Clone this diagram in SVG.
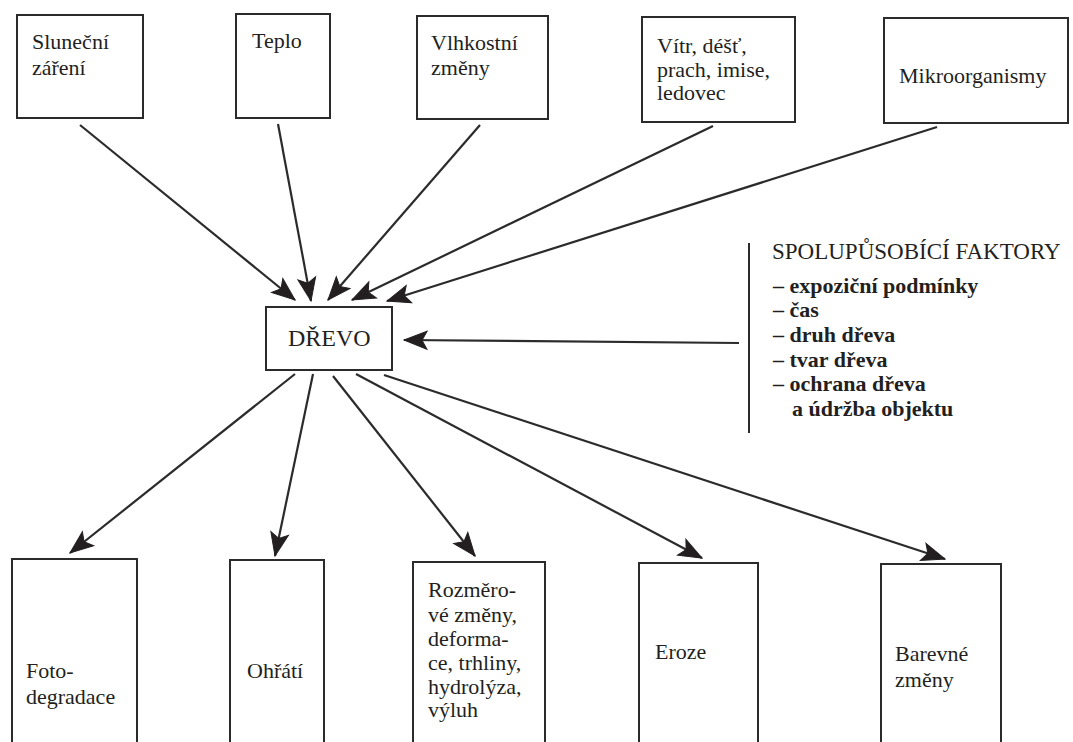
<svg xmlns="http://www.w3.org/2000/svg" width="1073" height="742" viewBox="0 0 1073 742">
<style>
.box{fill:none;stroke:#2b2b2b;stroke-width:2}
text{font-family:'Liberation Serif','DejaVu Serif',serif;font-size:22px;fill:#231f20}
.b{font-weight:bold}
.c{stroke:#2b2b2b;stroke-width:2.2;fill:none;marker-end:url(#ah)}
</style>
<defs>
<marker id="ah" markerUnits="userSpaceOnUse" markerWidth="26" markerHeight="20" refX="23" refY="9" orient="auto" overflow="visible">
<path d="M0,0 L23,9 L0,18 L5,9 Z" fill="#231f20" stroke="#231f20" stroke-width="1" stroke-linejoin="miter"/>
</marker>
</defs>
<rect width="1073" height="742" fill="#ffffff"/>
<g id="n-slunecni"><rect class="box" x="17" y="15" width="126" height="103"/><text x="32" y="49">Sluneční</text><text x="32" y="75">záření</text></g>
<g id="n-teplo"><rect class="box" x="236" y="14" width="94" height="104"/><text x="252" y="48">Teplo</text></g>
<g id="n-vlhkost"><rect class="box" x="417" y="16" width="131" height="103"/><text x="431" y="50">Vlhkostní</text><text x="431" y="75">změny</text></g>
<g id="n-vitr"><rect class="box" x="642" y="17" width="153" height="105"/><text x="657" y="53">Vítr, déšť,</text><text x="657" y="77">prach, imise,</text><text x="657" y="100">ledovec</text></g>
<g id="n-mikro"><rect class="box" x="884" y="18" width="184" height="105"/><text x="899" y="83">Mikroorganismy</text></g>
<g id="n-drevo"><rect class="box" x="266" y="307" width="126" height="63"/><text x="288" y="346" style="font-size:24px">DŘEVO</text></g>
<g id="n-faktory">
<line x1="749" y1="243" x2="749" y2="433" stroke="#2b2b2b" stroke-width="2"/>
<text x="772" y="259" style="font-size:23px">SPOLUPŮSOBÍCÍ FAKTORY</text>
<text class="b" x="773" y="293">– expoziční podmínky</text>
<text class="b" x="773" y="317">– čas</text>
<text class="b" x="773" y="342">– druh dřeva</text>
<text class="b" x="773" y="367">– tvar dřeva</text>
<text class="b" x="773" y="391">– ochrana dřeva</text>
<text class="b" x="792" y="416">a údržba objektu</text>
</g>
<g id="n-foto"><rect class="box" x="12" y="559" width="125" height="200"/><text x="26" y="678">Foto-</text><text x="26" y="704">degradace</text></g>
<g id="n-ohrati"><rect class="box" x="230" y="560" width="94" height="200"/><text x="247" y="678">Ohřátí</text></g>
<g id="n-rozmer"><rect class="box" x="413" y="562" width="132" height="200"/><text x="428" y="597">Rozměro-</text><text x="428" y="622">vé změny,</text><text x="428" y="646">deforma-</text><text x="428" y="670">ce, trhliny,</text><text x="428" y="694">hydrolýza,</text><text x="428" y="717">výluh</text></g>
<g id="n-eroze"><rect class="box" x="639" y="563" width="119" height="200"/><text x="655" y="659">Eroze</text></g>
<g id="n-barevne"><rect class="box" x="881" y="564" width="120" height="200"/><text x="895" y="661">Barevné</text><text x="895" y="687">změny</text></g>
<g id="connectors">
<line class="c" x1="80" y1="125" x2="295" y2="300"/>
<line class="c" x1="278" y1="124" x2="311" y2="301"/>
<line class="c" x1="480" y1="125" x2="328" y2="300"/>
<line class="c" x1="713" y1="126" x2="352" y2="300"/>
<line class="c" x1="937" y1="127" x2="387" y2="301"/>
<line class="c" x1="739" y1="343" x2="404" y2="340"/>
<line class="c" x1="295" y1="374" x2="70" y2="553"/>
<line class="c" x1="313" y1="374" x2="275" y2="556"/>
<line class="c" x1="333" y1="376" x2="475" y2="556"/>
<line class="c" x1="356" y1="374" x2="702" y2="558"/>
<line class="c" x1="384" y1="375" x2="945" y2="559"/>
</g>
</svg>
